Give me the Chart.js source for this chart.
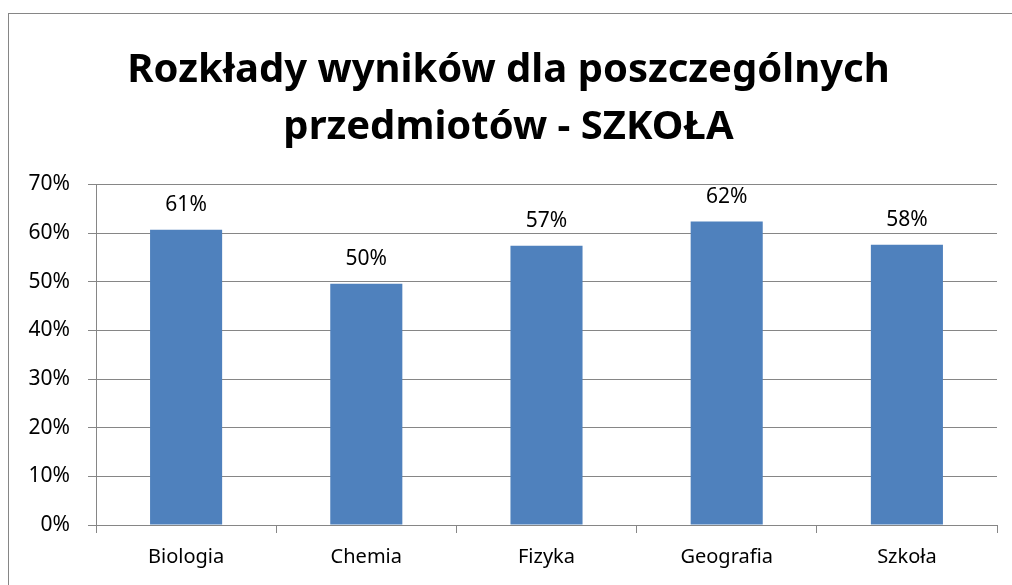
<!DOCTYPE html>
<html>
<head>
<meta charset="utf-8">
<script src="https://cdn.jsdelivr.net/npm/chart.js@4"></script>
<style>
  html, body { margin: 0; padding: 0; background: #fff; overflow: hidden; }
  #frame { position: absolute; left: 8px; top: 13px; width: 1100px; height: 700px; border: 1px solid #868686; }
  #wrap { position: absolute; left: 0; top: 0; width: 1012px; height: 585px; }
</style>
</head>
<body>
<div id="frame"></div>
<div id="wrap"><canvas id="chart"></canvas></div>
<script>
// Chart data
const categories = ['Biologia', 'Chemia', 'Fizyka', 'Geografia', 'Szkoła'];
const scores = [60.7, 49.6, 57.4, 62.4, 57.6];
const titleLines = ['Rozkłady wyników dla poszczególnych', 'przedmiotów - SZKOŁA'];
const yMax = 70;
const yStep = 10;

const fontFamily = "'Noto Sans', 'Open Sans', sans-serif";
const gridColor = '#868686';

// Draw the rounded percentage above each bar
const valueLabels = {
    id: 'valueLabels',
    afterDatasetsDraw(chart) {
        const ctx = chart.ctx;
        const meta = chart.getDatasetMeta(0);
        ctx.save();
        ctx.fillStyle = '#000';
        ctx.font = '21px ' + fontFamily;
        ctx.textAlign = 'center';
        ctx.textBaseline = 'bottom';
        meta.data.forEach((bar, i) => {
            ctx.fillText(Math.round(scores[i]) + '%', bar.x, bar.y - 14);
        });
        ctx.restore();
    }
};

const ctx = document.getElementById('chart').getContext('2d');
new Chart(ctx, {
    type: 'bar',
    data: {
        labels: categories,
        datasets: [{
            data: scores,
            backgroundColor: '#4F81BD',
            borderWidth: 0,
            categoryPercentage: 1,
            barPercentage: 0.4
        }]
    },
    options: {
        responsive: true,
        maintainAspectRatio: false,
        animation: false,
        layout: { padding: { left: 20, right: 15, top: 0, bottom: 4 } },
        plugins: {
            legend: { display: false },
            tooltip: { enabled: false },
            title: {
                display: true,
                text: titleLines,
                color: '#000',
                font: { family: fontFamily, size: 40, weight: 'bold', lineHeight: 1.43 },
                padding: { top: 42, bottom: 28 }
            }
        },
        scales: {
            x: {
                grid: {
                    display: true,
                    offset: true,
                    drawOnChartArea: false,
                    drawTicks: true,
                    tickLength: 8,
                    color: gridColor
                },
                border: { display: true, color: gridColor },
                ticks: { color: '#000', font: { family: fontFamily, size: 20 }, padding: 12 }
            },
            y: {
                min: 0,
                max: yMax,
                afterFit(scale) { scale.width = 76; },
                grid: { color: gridColor, tickLength: 8 },
                border: { display: true, color: gridColor },
                ticks: {
                    stepSize: yStep,
                    color: '#000',
                    padding: 18,
                    font: { family: fontFamily, size: 21 },
                    callback: v => v + '%'
                }
            }
        }
    },
    plugins: [valueLabels]
});
</script>
</body>
</html>
